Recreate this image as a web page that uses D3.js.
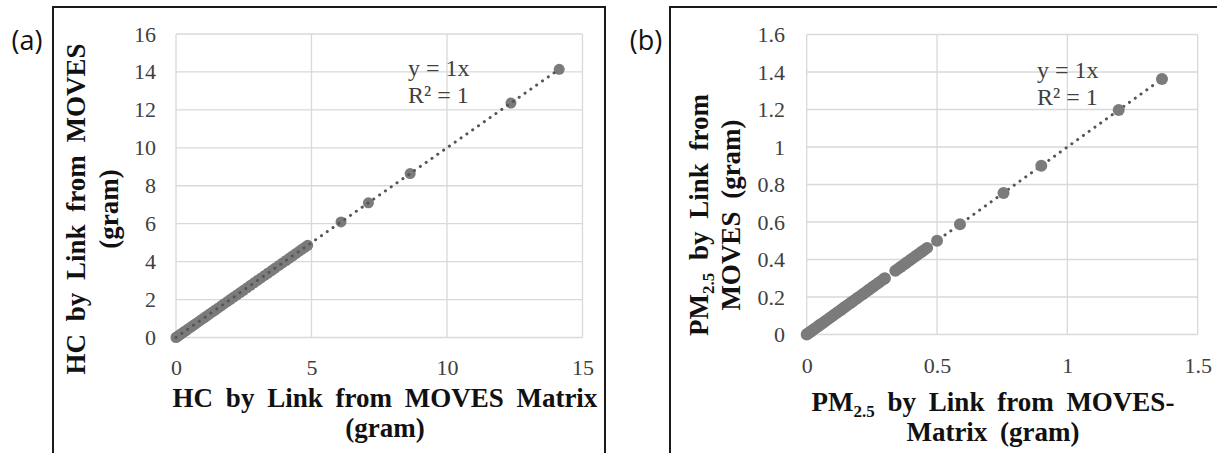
<!DOCTYPE html>
<html><head><meta charset="utf-8">
<script src="https://cdn.jsdelivr.net/npm/d3@7"></script>
<style>body{margin:0;background:#fff}svg{display:block}</style>
</head><body>
<svg id="c" width="1217" height="453"></svg>
<script>
// ---- data ----
const hcX = [0.00,0.03,0.06,0.10,0.14,0.19,0.25,0.31,0.38,0.45,0.52,0.60,0.68,0.77,0.86,0.95,1.05,1.14,1.24,1.35,1.45,1.56,1.67,1.78,1.90,2.01,2.13,2.25,2.37,2.49,2.62,2.75,2.88,3.01,3.14,3.27,3.40,3.53,3.66,3.80,3.93,4.06,4.19,4.31,4.43,4.55,4.66,4.77,4.86,6.09,7.10,8.64,12.36,14.14];
const hcY = [0.00,0.03,0.06,0.10,0.14,0.19,0.25,0.31,0.38,0.45,0.52,0.60,0.68,0.77,0.86,0.95,1.05,1.14,1.24,1.35,1.45,1.56,1.67,1.78,1.90,2.01,2.13,2.25,2.37,2.49,2.62,2.75,2.88,3.01,3.14,3.27,3.40,3.53,3.66,3.80,3.93,4.06,4.19,4.31,4.43,4.55,4.66,4.77,4.86,6.09,7.10,8.64,12.36,14.14];
const pmX = [0.000,0.005,0.010,0.015,0.020,0.026,0.032,0.038,0.045,0.052,0.059,0.066,0.074,0.082,0.090,0.098,0.106,0.114,0.122,0.131,0.140,0.149,0.158,0.167,0.176,0.186,0.196,0.206,0.216,0.226,0.236,0.246,0.256,0.266,0.276,0.286,0.296,0.300,0.340,0.350,0.360,0.370,0.380,0.390,0.400,0.410,0.420,0.430,0.440,0.450,0.462,0.500,0.588,0.755,0.900,1.197,1.363];
const pmY = [0.000,0.005,0.010,0.015,0.020,0.026,0.032,0.038,0.045,0.052,0.059,0.066,0.074,0.082,0.090,0.098,0.106,0.114,0.122,0.131,0.140,0.149,0.158,0.167,0.176,0.186,0.196,0.206,0.216,0.226,0.236,0.246,0.256,0.266,0.276,0.286,0.296,0.300,0.340,0.350,0.360,0.370,0.380,0.390,0.400,0.410,0.420,0.430,0.440,0.450,0.462,0.500,0.588,0.755,0.900,1.197,1.363];
const hcTrendX = [0, 14.14];
const pmTrendX = [0, 1.363];
const hcXTicks = [0,5,10,15];
const hcXLabels = ["0","5","10","15"];
const hcYTicks = [0,2,4,6,8,10,12,14,16];
const hcYLabels = ["0","2","4","6","8","10","12","14","16"];
const pmXTicks = [0,0.5,1,1.5];
const pmXLabels = ["0","0.5","1","1.5"];
const pmYTicks = [0,0.2,0.4,0.6,0.8,1,1.2,1.4,1.6];
const pmYLabels = ["0","0.2","0.4","0.6","0.8","1","1.2","1.4","1.6"];

const svg = d3.select("#c");
const SERIF = "'Liberation Serif','Times New Roman',serif";

function panel(cfg){
  const g = svg.append("g");
  g.append("rect").attr("x",cfg.frame[0]).attr("y",cfg.frame[1]).attr("width",cfg.frame[2]).attr("height",cfg.frame[3])
    .attr("fill","none").attr("stroke","#1a1a1a").attr("stroke-width",2);
  g.append("text").attr("x",cfg.tag[0]).attr("y",cfg.tag[1]).attr("font-family","'Open Sans','Noto Sans',sans-serif")
    .attr("font-size",27).attr("fill","#111").attr("text-anchor","middle").text(cfg.tagText);

  const x = d3.scaleLinear().domain(cfg.xDom).range(cfg.xR);
  const y = d3.scaleLinear().domain(cfg.yDom).range(cfg.yR);
  g.append("g").selectAll("line").data(cfg.yTicks).join("line")
    .attr("x1",x(cfg.xDom[0])).attr("x2",x(cfg.xDom[1])).attr("y1",d=>y(d)).attr("y2",d=>y(d))
    .attr("stroke","#d9d9d9").attr("stroke-width",1.3);
  g.append("g").selectAll("line").data(cfg.xTicks).join("line")
    .attr("y1",y(cfg.yDom[0])).attr("y2",y(cfg.yDom[1])).attr("x1",d=>x(d)).attr("x2",d=>x(d))
    .attr("stroke","#d9d9d9").attr("stroke-width",1.3);
  const ax = g.append("g").attr("transform",`translate(0,${y(cfg.yDom[0])})`)
    .call(d3.axisBottom(x).tickValues(cfg.xTicks).tickSize(0).tickPadding(cfg.xPad).tickFormat((d,i)=>cfg.xLabels[i]));
  const ay = g.append("g").attr("transform",`translate(${x(cfg.xDom[0])},0)`)
    .call(d3.axisLeft(y).tickValues(cfg.yTicks).tickSize(0).tickPadding(cfg.yPad).tickFormat((d,i)=>cfg.yLabels[i]));
  [ax,ay].forEach(a=>{a.select(".domain").remove();
    a.selectAll("text").attr("font-family",SERIF).attr("font-size",22).attr("fill","#404040");});

  const pts = cfg.xs.map((v,i)=>[v,cfg.ys[i]]);
  const trend = ()=> g.append("line")
    .attr("x1",x(cfg.trend[0])).attr("y1",y(cfg.trend[0])).attr("x2",x(cfg.trend[1])).attr("y2",y(cfg.trend[1]))
    .attr("stroke","#555").attr("stroke-width",3).attr("stroke-linecap","round").attr("stroke-dasharray","0.1 7");
  if(!cfg.trendOnTop) trend();
  g.append("g").selectAll("circle").data(pts).join("circle")
    .attr("cx",d=>x(d[0])).attr("cy",d=>y(d[1])).attr("r",cfg.r).attr("fill","#7b7b7b");
  if(cfg.trendOnTop) trend();

  const eq = g.append("text").attr("font-family",SERIF).attr("font-size",24).attr("fill","#404040");
  eq.append("tspan").attr("x",cfg.eq[0]).attr("y",cfg.eq[1]).text("y = 1x");
  eq.append("tspan").attr("x",cfg.eq[0]).attr("y",cfg.eq[1]+27).text("R² = 1");

  cfg.xTitle.forEach((line,i)=>{
    const t = g.append("text").attr("x",cfg.xTitlePos[0]).attr("y",cfg.xTitlePos[1]+i*30)
      .attr("text-anchor","middle").attr("font-family",SERIF).attr("font-weight","bold")
      .attr("font-size",27).attr("word-spacing",6).attr("fill","#111");
    line.forEach(part=>{
      const s = t.append("tspan").text(part.t);
      if(part.sub) s.attr("font-size",17).attr("dy",6);
      if(part.after) s.attr("dy",-6);
    });
  });
  cfg.yTitle.forEach((line,i)=>{
    const t = g.append("text").attr("transform",`translate(${cfg.yTitlePos[0]+i*cfg.yLineGap},${cfg.yTitlePos[1]}) rotate(-90)`)
      .attr("text-anchor","middle").attr("font-family",SERIF).attr("font-weight","bold")
      .attr("font-size",27).attr("word-spacing",6).attr("fill","#111");
    line.forEach(part=>{
      const s = t.append("tspan").text(part.t);
      if(part.sub) s.attr("font-size",17).attr("dy",6);
      if(part.after) s.attr("dy",-6);
    });
  });
}

panel({
  frame:[53,7,552,470], tag:[27,50], tagText:"(a)",
  xDom:[0,15], yDom:[0,16], xR:[176,582.5], yR:[337.5,34],
  xTicks:hcXTicks, xLabels:hcXLabels, yTicks:hcYTicks, yLabels:hcYLabels, xPad:22, yPad:20,
  xs:hcX, ys:hcY, trend:hcTrendX, r:5.5, trendOnTop:true,
  eq:[408,76],
  xTitle:[[{t:"HC by Link from MOVES Matrix"}],[{t:"(gram)"}]], xTitlePos:[385,407],
  yTitle:[[{t:"HC by Link from MOVES"}],[{t:"(gram)"}]], yTitlePos:[85,209], yLineGap:33
});
panel({
  frame:[670,7,600,470], tag:[646,50], tagText:"(b)",
  xDom:[0,1.5], yDom:[0,1.6], xR:[806.7,1197.7], yR:[334.5,34.5],
  xTicks:pmXTicks, xLabels:pmXLabels, yTicks:pmYTicks, yLabels:pmYLabels, xPad:23, yPad:21.7,
  xs:pmX, ys:pmY, trend:pmTrendX, r:6, trendOnTop:false,
  eq:[1037,78],
  xTitle:[[{t:"PM"},{t:"2.5",sub:true},{t:" by Link from MOVES-",after:true}],[{t:"Matrix (gram)"}]], xTitlePos:[993,411],
  yTitle:[[{t:"PM"},{t:"2.5",sub:true},{t:" by Link from",after:true}],[{t:"MOVES (gram)"}]], yTitlePos:[708,215], yLineGap:32
});
</script>
</body></html>
